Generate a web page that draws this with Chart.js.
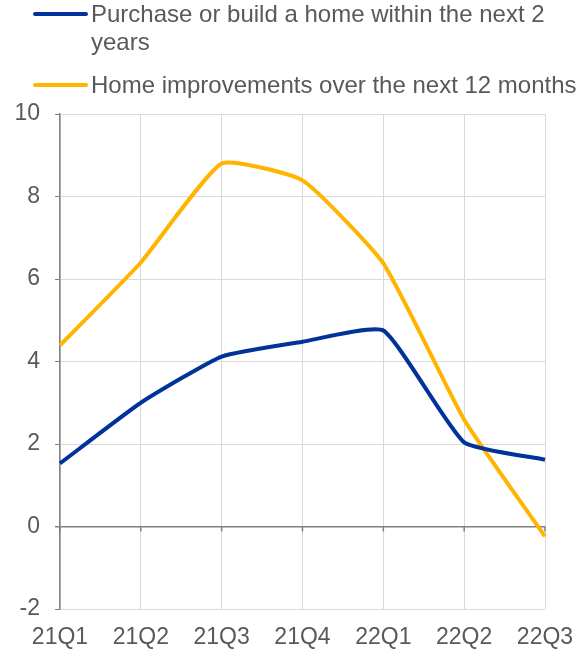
<!DOCTYPE html>
<html>
<head>
<meta charset="utf-8">
<script src="https://cdn.jsdelivr.net/npm/chart.js@4"></script>
<style>
  html, body { margin: 0; padding: 0; background: #fff; }
  #wrap { position: relative; width: 578px; height: 651px; }
  #legend { position: absolute; left: 33px; top: 0; font-family: "Liberation Sans", Arial, sans-serif; font-size: 24px; color: #595959; }
  .item { position: relative; padding-left: 58px; line-height: 28px; white-space: nowrap; }
  .item .swatch { position: absolute; left: 0; top: 12px; width: 55px; height: 4px; border-radius: 2px; }
</style>
</head>
<body>
<div id="wrap">
  <canvas id="chart" width="578" height="651"></canvas>
  <div id="legend"></div>
</div>
<script>
// ---- data ----
const quarters = ['21Q1', '21Q2', '21Q3', '21Q4', '22Q1', '22Q2', '22Q3'];
const purchaseHome = [1.53, 3.0, 4.12, 4.48, 4.75, 2.04, 1.62];
const homeImprovements = [4.39, 6.4, 8.8, 8.39, 6.38, 2.59, -0.24];
const yTicks = [-2, 0, 2, 4, 6, 8, 10];

const seriesNames = ['Purchase or build a home within the next 2\nyears', 'Home improvements over the next 12 months'];
const seriesColors = ['#003299', '#FFB400'];

// ---- legend (html, wraps like the original) ----
const legendEl = document.getElementById('legend');
seriesNames.forEach(function (name, i) {
  const item = document.createElement('div');
  item.className = 'item';
  item.style.marginTop = i === 0 ? '0px' : '15px';
  const sw = document.createElement('span');
  sw.className = 'swatch';
  sw.style.background = seriesColors[i];
  item.appendChild(sw);
  name.split('\n').forEach(function (line, j) {
    if (j > 0) item.appendChild(document.createElement('br'));
    item.appendChild(document.createTextNode(line));
  });
  legendEl.appendChild(item);
});

// tick marks hanging under the zero line
const zeroTicks = {
  id: 'zeroTicks',
  beforeDatasetsDraw(chart) {
    const x = chart.scales.x, y = chart.scales.y;
    const y0 = y.getPixelForValue(0);
    const c = chart.ctx;
    c.save();
    c.strokeStyle = '#808080';
    c.lineWidth = 1.5;
    c.beginPath();
    quarters.forEach(function (q, i) {
      const px = x.getPixelForValue(i);
      c.moveTo(px, y0);
      c.lineTo(px, y0 + 5);
    });
    c.stroke();
    c.restore();
  }
};

const tickFont = { family: 'Liberation Sans', size: 23 };

const ctx = document.getElementById('chart').getContext('2d');
new Chart(ctx, {
  type: 'line',
  data: {
    labels: quarters,
    datasets: [
      { label: seriesNames[0], data: purchaseHome, borderColor: seriesColors[0], backgroundColor: seriesColors[0] },
      { label: seriesNames[1], data: homeImprovements, borderColor: seriesColors[1], backgroundColor: seriesColors[1] }
    ]
  },
  options: {
    responsive: false,
    animation: false,
    layout: { padding: { top: 114, left: 0, right: 33, bottom: 2 } },
    elements: {
      line: { borderWidth: 4, tension: 0.15, borderCapStyle: 'butt' },
      point: { radius: 0 }
    },
    plugins: {
      legend: { display: false },
      tooltip: { enabled: false }
    },
    scales: {
      x: {
        offset: false,
        afterFit: function (axis) { axis.height = 40; axis.paddingLeft = 0; axis.paddingRight = 0; },
        grid: { color: '#d9d9d9', lineWidth: 1, drawTicks: false },
        border: { display: false },
        ticks: { color: '#595959', font: tickFont, padding: 15, maxRotation: 0, autoSkip: false }
      },
      y: {
        min: -2,
        max: 10,
        afterBuildTicks: function (axis) { axis.ticks = yTicks.map(v => ({ value: v })); },
        afterFit: function (axis) { axis.width = 60; axis.paddingTop = 0; axis.paddingBottom = 0; },
        grid: {
          color: c => (c.tick && c.tick.value === 0 ? '#808080' : '#d9d9d9'),
          lineWidth: c => (c.tick && c.tick.value === 0 ? 1.5 : 1),
          tickColor: '#808080',
          tickLength: 5
        },
        border: { color: '#808080', width: 1.5 },
        ticks: { color: '#595959', font: tickFont, padding: 15 }
      }
    }
  },
  plugins: [zeroTicks]
});
</script>
</body>
</html>
